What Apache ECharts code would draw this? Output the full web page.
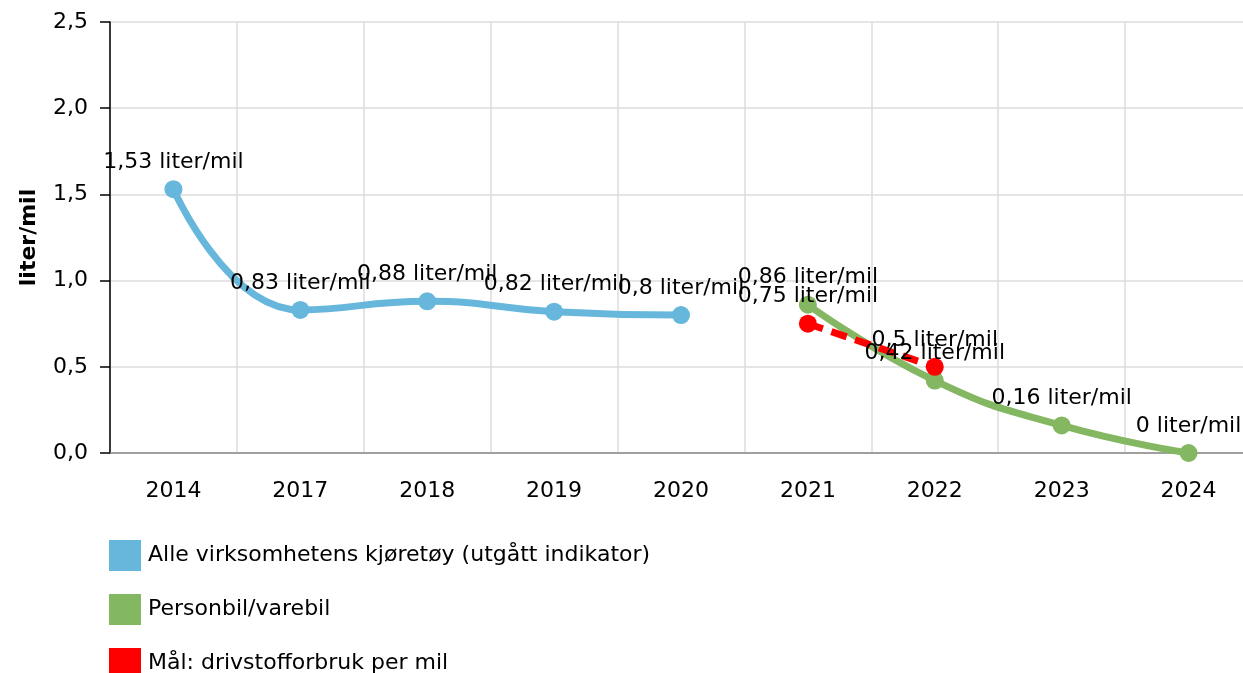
<!DOCTYPE html>
<html>
<head>
<meta charset="utf-8">
<script src="https://cdn.jsdelivr.net/npm/echarts@6/dist/echarts.min.js"></script>
<style>
  html, body { margin: 0; padding: 0; background: #fff; overflow: hidden; }
  /* plot runs a little past the right edge of the window, like the original */
  #chart { width: 1252px; height: 673px; }
</style>
</head>
<body>
<div id="chart"></div>
<script>
const years = ['2014', '2017', '2018', '2019', '2020', '2021', '2022', '2023', '2024']
const alleKjoretoy = [1.53, 0.83, 0.88, 0.82, 0.8, null, null, null, null]
const personbil = [null, null, null, null, null, 0.86, 0.42, 0.16, 0]
const maal = [null, null, null, null, null, 0.75, 0.5, null, null]
const legendNames = ['Alle virksomhetens kjøretøy (utgått indikator)', 'Personbil/varebil', 'Mål: drivstofforbruk per mil']

const font = 'DejaVu Sans, Verdana, sans-serif'
const fs = 22
const comma = v => String(v).replace('.', ',')

const labelOpt = {
  show: true,
  position: 'top',
  distance: 7,
  color: '#000',
  fontFamily: font,
  fontSize: fs,
  formatter: p => comma(p.value) + ' liter/mil'
}

const makeSeries = (name, data, color, dashed) => ({
  name: name,
  type: 'line',
  data: data,
  smooth: 0.5,
  connectNulls: false,
  symbol: 'circle',
  symbolSize: 18,
  itemStyle: { color: color },
  lineStyle: { color: color, width: 7, type: dashed ? [16, 9] : 'solid' },
  label: labelOpt
})

// one legend per item so the vertical list doesn't wrap at the bottom edge
const legends = legendNames.map((n, i) => ({
  orient: 'vertical',
  left: 104,
  top: 535 + i * 54,
  padding: 5,
  icon: 'rect',
  itemWidth: 32,
  itemHeight: 31,
  itemGap: 7,
  textStyle: { fontFamily: font, fontSize: fs, color: '#000', padding: [0, 0, 0, 2] },
  data: [n]
}))

const chart = echarts.init(document.getElementById('chart'))
chart.setOption({
  animation: false,
  textStyle: { fontFamily: font },
  grid: { left: 110, right: 0, top: 22, bottom: 220 },
  legend: legends,
  xAxis: {
    type: 'category',
    data: years,
    boundaryGap: true,
    axisLine: { lineStyle: { color: '#888', width: 1.5 } },
    axisTick: { alignWithLabel: true, length: 8, lineStyle: { color: '#aaa' } },
    axisLabel: { color: '#000', fontSize: fs, margin: 27, fontFamily: font },
    splitLine: { show: true, lineStyle: { color: '#ddd', width: 1.5 } }
  },
  yAxis: {
    type: 'value',
    min: 0,
    max: 2.5,
    interval: 0.5,
    name: 'liter/mil',
    nameLocation: 'middle',
    nameGap: 70,
    nameTextStyle: { color: '#000', fontSize: fs, fontWeight: 'bold', fontFamily: font },
    axisLine: { show: true, lineStyle: { color: '#000', width: 1.5 } },
    axisTick: { show: true, length: 10, lineStyle: { color: '#000', width: 1.5 } },
    axisLabel: { color: '#000', fontSize: fs, margin: 22, fontFamily: font, formatter: v => v.toFixed(1).replace('.', ',') },
    splitLine: { show: true, lineStyle: { color: '#ddd', width: 1.5 } }
  },
  series: [
    makeSeries(legendNames[0], alleKjoretoy, '#67b7dc', false),
    makeSeries(legendNames[1], personbil, '#84b761', false),
    makeSeries(legendNames[2], maal, '#ff0000', true)
  ]
})
</script>
</body>
</html>
